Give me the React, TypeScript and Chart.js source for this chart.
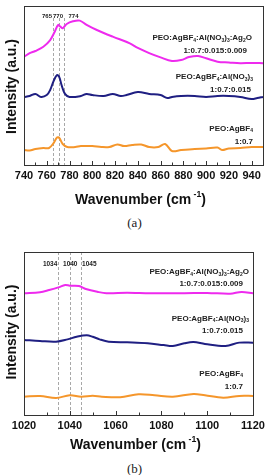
import React, { useEffect, useRef } from "react";
import { Chart, registerables } from "chart.js";
Chart.register(...registerables);

const FONT = '"Liberation Sans", Arial, Helvetica, sans-serif';
const C_MAG = "#ee2aee";
const C_NAVY = "#1f1f82";
const C_ORANGE = "#f5962b";

// ---------- Panel (a) data ----------
const aMagX = [740, 745, 750, 757, 763, 767, 770, 772, 774, 777.5, 783, 789, 795, 804, 818, 833, 840, 850, 860, 870, 878, 885, 893, 900, 910, 920, 930, 940, 950];
const aMagY = [68.1, 70.3, 71.7, 74.4, 78.6, 83.8, 88.1, 87, 86, 88.7, 90.4, 90.8, 88.1, 84.9, 80.7, 76.5, 73.6, 70.4, 67.7, 65.4, 66, 67.9, 68.6, 67.1, 65, 64.5, 64, 64.2, 64];
const aNavyX = [740, 745, 750, 755, 760, 763, 766, 769, 771, 773, 776, 780, 790, 795, 800, 810, 818, 825, 830, 840, 850, 860, 866, 870, 878, 890, 900, 910, 920, 930, 940, 945, 950];
const aNavyY = [42.8, 43.4, 44.7, 42.8, 44, 47.2, 52.8, 56.6, 55.3, 50.3, 44.7, 42.8, 43.4, 44.7, 44, 43.4, 44.7, 43.4, 44, 45.9, 44.7, 44, 42.1, 42.8, 43.4, 43.4, 42.8, 43.4, 43.4, 42.8, 41.5, 42.1, 42.8];
const aOrX = [740, 745, 750, 757, 762, 766, 769, 771, 774, 778, 785, 790, 800, 808, 815, 822, 828, 835, 843, 850, 858, 864, 870, 878, 890, 900, 910, 914, 920, 930, 940, 950];
const aOrY = [9.4, 9.1, 10.1, 10.7, 10.7, 13.8, 17.3, 17, 13.2, 11.3, 11.3, 11.9, 11.9, 11.3, 11.3, 12.9, 11.9, 12.6, 12.9, 11.3, 11.3, 13.2, 8.8, 9.4, 10.1, 10.4, 11, 9.4, 10.4, 10.7, 11.3, 11.3];
const aPeakLines = [765.5, 770.5, 775];
const aPeakLabels = ["765", "770", "774"];
const aPeakLabelX = [760.2, 769.9, 783.5];

// ---------- Panel (b) data ----------
const bMagX = [1020, 1027, 1031, 1035, 1038, 1040, 1044, 1047, 1052, 1056, 1065, 1075, 1090, 1100, 1110, 1115, 1120];
const bMagY = [74.7, 75.3, 76.7, 78.3, 79.8, 79.3, 79.1, 77.3, 75.6, 74.7, 75, 74.7, 74.7, 74.9, 74.4, 75.5, 74.7];
const bNavyX = [1020, 1027, 1034, 1039, 1043, 1047.4, 1050, 1053, 1057, 1065, 1074, 1081, 1085, 1090, 1094, 1099, 1108, 1114, 1120];
const bNavyY = [46, 45.4, 45, 46.4, 48, 48.9, 48, 46.4, 45, 44.6, 44, 42.9, 42.3, 44, 44.8, 43.6, 42.3, 44.4, 44.4];
const bOrX = [1020, 1027, 1034, 1040, 1045, 1050, 1054, 1062, 1070, 1077, 1085, 1094, 1099, 1107, 1114, 1120];
const bOrY = [11.2, 11.7, 10.4, 12.1, 11.2, 11.8, 11.2, 10.9, 12.7, 12.1, 11.2, 12.9, 12.1, 10.6, 11.7, 11.7];
const bPeakLines = [1035, 1040, 1045];
const bPeakLabels = ["1034", "1040", "1045"];
const bPeakLabelX = [1031.4, 1040.2, 1048.5];

// series labels ("_d" = subscript)
const seriesLabelsA = [
  ["PEO:AgBF_4:Al(NO_3)_3:Ag_2O", "1:0.7:0.015:0.009"],
  ["PEO:AgBF_4:Al(NO_3)_3", "1:0.7:0.015"],
  ["PEO:AgBF_4", "1:0.7"],
];
const seriesLabelsB = seriesLabelsA;

type Seg = { t: string; k: "n" | "sub" | "sup" };
function parseRich(s: string): Seg[] {
  const out: Seg[] = [];
  let cur = "";
  for (let i = 0; i < s.length; i++) {
    if (s[i] === "_" && i + 1 < s.length) {
      if (cur) out.push({ t: cur, k: "n" });
      cur = "";
      out.push({ t: s[i + 1], k: "sub" });
      i++;
    } else cur += s[i];
  }
  if (cur) out.push({ t: cur, k: "n" });
  return out;
}

function drawSegs(ctx: CanvasRenderingContext2D, segs: Seg[], x: number, y: number, size: number, align: "left" | "right" | "center", color: string) {
  const fontFor = (k: string) => `bold ${k === "n" ? size : Math.round(size * 0.62 * 10) / 10}px ${FONT}`;
  let total = 0;
  const widths = segs.map((sg) => {
    ctx.font = fontFor(sg.k);
    const w = ctx.measureText(sg.t).width;
    total += w;
    return w;
  });
  let cx = align === "left" ? x : align === "right" ? x - total : x - total / 2;
  ctx.fillStyle = color;
  ctx.textAlign = "left";
  ctx.textBaseline = "middle";
  segs.forEach((sg, i) => {
    ctx.font = fontFor(sg.k);
    const dy = sg.k === "sub" ? size * 0.32 : sg.k === "sup" ? -size * 0.42 : 0;
    ctx.fillText(sg.t, cx, y + dy);
    cx += widths[i];
  });
}

type PanelProps = {
  width: number;
  height: number;
  xMin: number;
  xMax: number;
  pad: { top: number; right: number };
  xAxisH: number;
  series: { x: number[]; y: number[]; color: string }[];
  peakLines: number[];
  peakLabels: string[];
  peakLabelX: number[];
  peakLabelY: number;
  peakFont: number;
  dashTop: number;
  labels: string[][];
  labelPos: { r: number; y: number }[][];
  xTitleY: number;
  xTitleDx: number;
  yTitleX: number;
  yTitleDy: number;
};

function Panel(p: PanelProps) {
  const ref = useRef<HTMLCanvasElement | null>(null);
  useEffect(() => {
    if (!ref.current) return;
    const deco = {
      id: "deco",
      beforeDatasetsDraw(chart: any) {
        const { ctx, chartArea: a, scales } = chart;
        ctx.save();
        ctx.strokeStyle = "#a8a8a8";
        ctx.lineWidth = 1;
        ctx.setLineDash([3, 2]);
        p.peakLines.forEach((v) => {
          const x = Math.round(scales.x.getPixelForValue(v)) + 0.5;
          ctx.beginPath();
          ctx.moveTo(x, a.top + p.dashTop);
          ctx.lineTo(x, a.bottom);
          ctx.stroke();
        });
        ctx.restore();
      },
      afterDatasetsDraw(chart: any) {
        const { ctx, chartArea: a, scales } = chart;
        ctx.save();
        // frame
        ctx.strokeStyle = "#333";
        ctx.lineWidth = 1;
        ctx.strokeRect(Math.round(a.left) + 0.5, Math.round(a.top) + 0.5, Math.round(a.right - a.left), Math.round(a.bottom - a.top));
        // inward ticks
        for (let v = p.xMin; v <= p.xMax + 1e-6; v += 10) {
          const x = Math.round(scales.x.getPixelForValue(v)) + 0.5;
          const major = Math.round(v - p.xMin) % 20 === 0;
          ctx.beginPath();
          ctx.moveTo(x, a.bottom);
          ctx.lineTo(x, a.bottom - (major ? 4 : 2.5));
          ctx.stroke();
        }
        // peak labels
        ctx.fillStyle = "#222";
        ctx.font = `bold ${p.peakFont}px ${FONT}`;
        ctx.textAlign = "center";
        ctx.textBaseline = "middle";
        p.peakLabels.forEach((t, i) => {
          ctx.fillText(t, scales.x.getPixelForValue(p.peakLabelX[i]), a.top + p.peakLabelY);
        });
        // series labels
        p.labels.forEach((lines, i) => {
          lines.forEach((ln, j) => {
            const pos = p.labelPos[i][j];
            drawSegs(ctx, parseRich(ln), a.right - pos.r, pos.y, 8, "right", "#222");
          });
        });
        // x title
        const segs: Seg[] = [
          { t: "Wavenumber (cm", k: "n" },
          { t: " -1", k: "sup" },
          { t: ")", k: "n" },
        ];
        drawSegs(ctx, segs, (a.left + a.right) / 2 + p.xTitleDx, p.xTitleY, 14, "center", "#111");
        // y title
        ctx.translate(p.yTitleX, (a.top + a.bottom) / 2 + p.yTitleDy);
        ctx.rotate(-Math.PI / 2);
        ctx.font = `bold 14px ${FONT}`;
        ctx.fillStyle = "#111";
        ctx.textAlign = "center";
        ctx.textBaseline = "middle";
        ctx.fillText("Intensity (a.u.)", 0, 0);
        ctx.restore();
      },
    };
    const chart = new Chart(ref.current, {
      type: "line",
      data: {
        datasets: p.series.map((s) => ({
          data: s.x.map((x, i) => ({ x, y: s.y[i] })),
          borderColor: s.color,
          backgroundColor: s.color,
          borderWidth: 2,
          pointRadius: 0,
          tension: 0.35,
          fill: false,
        })),
      },
      options: {
        animation: false,
        responsive: false,
        layout: { padding: { top: p.pad.top, right: p.pad.right, left: 0, bottom: 0 } },
        plugins: { legend: { display: false }, tooltip: { enabled: false } },
        scales: {
          x: {
            type: "linear",
            min: p.xMin,
            max: p.xMax,
            ticks: {
              stepSize: 20,
              includeBounds: false,
              autoSkip: false,
              maxRotation: 0,
              padding: 4,
              color: "#111",
              font: { family: FONT, weight: "bold", size: 11 },
              callback: (v: any) => String(v),
            },
            grid: { display: false, drawTicks: false },
            border: { display: false },
            afterFit: (s: any) => {
              s.height = p.xAxisH;
            },
          },
          y: {
            min: 0,
            max: 100,
            ticks: { display: false },
            grid: { display: false, drawTicks: false },
            border: { display: false },
            afterFit: (s: any) => {
              s.width = 24;
            },
          },
        },
      } as any,
      plugins: [deco],
    });
    return () => chart.destroy();
  }, []);
  return <canvas ref={ref} width={p.width} height={p.height} style={{ display: "block", width: p.width, height: p.height }} />;
}

export default function App() {
  return (
    <div style={{ position: "absolute", left: 0, top: 0, width: 269, height: 475, background: "#fff", overflow: "hidden" }}>
      <div style={{ position: "absolute", left: 0, top: 0 }}>
        <Panel
          width={269}
          height={212}
          xMin={740}
          xMax={950}
          pad={{ top: 6, right: 6 }}
          xAxisH={47}
          series={[
            { x: aMagX, y: aMagY, color: C_MAG },
            { x: aNavyX, y: aNavyY, color: C_NAVY },
            { x: aOrX, y: aOrY, color: C_ORANGE },
          ]}
          peakLines={aPeakLines}
          peakLabels={aPeakLabels}
          peakLabelX={aPeakLabelX}
          peakLabelY={10}
          peakFont={6}
          dashTop={12}
          labels={seriesLabelsA}
          labelPos={[
            [{ r: 11, y: 38 }, { r: 16, y: 51 }],
            [{ r: 10, y: 77 }, { r: 12, y: 89.5 }],
            [{ r: 10, y: 128.5 }, { r: 10, y: 142 }],
          ]}
          xTitleY={200}
          xTitleDx={-3}
          yTitleX={12}
          yTitleDy={1}
        />
      </div>
      <div style={{ position: "absolute", left: 0, top: 215, width: 269, textAlign: "center", fontFamily: '"Liberation Serif", "Times New Roman", serif', fontSize: 13, lineHeight: "16px", color: "#222" }}>(a)</div>
      <div style={{ position: "absolute", left: 0, top: 240 }}>
        <Panel
          width={269}
          height={220}
          xMin={1020}
          xMax={1120}
          pad={{ top: 12, right: 16 }}
          xAxisH={45}
          series={[
            { x: bMagX, y: bMagY, color: C_MAG },
            { x: bNavyX, y: bNavyY, color: C_NAVY },
            { x: bOrX, y: bOrY, color: C_ORANGE },
          ]}
          peakLines={bPeakLines}
          peakLabels={bPeakLabels}
          peakLabelX={bPeakLabelX}
          peakLabelY={12}
          peakFont={6.5}
          dashTop={0}
          labels={seriesLabelsB}
          labelPos={[
            [{ r: 4, y: 31.7 }, { r: 10, y: 44 }],
            [{ r: 4, y: 78.3 }, { r: 10, y: 90.7 }],
            [{ r: 10, y: 133.3 }, { r: 10, y: 146.7 }],
          ]}
          xTitleY={205}
          xTitleDx={-3}
          yTitleX={12}
          yTitleDy={-1.5}
        />
      </div>
      <div style={{ position: "absolute", left: 0, top: 461, width: 269, textAlign: "center", fontFamily: '"Liberation Serif", "Times New Roman", serif', fontSize: 13, lineHeight: "16px", color: "#222" }}>(b)</div>
    </div>
  );
}
